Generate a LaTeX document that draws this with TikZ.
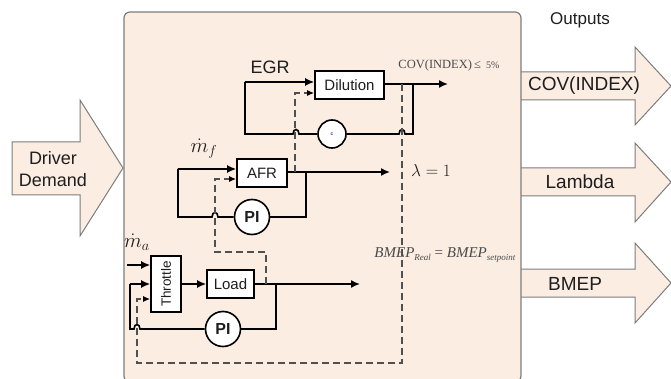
\documentclass[tikz,border=0pt]{standalone}
\usepackage{fontspec}
\setmainfont{Liberation Sans}
\newfontfamily\serifft{Liberation Serif}
\usetikzlibrary{arrows.meta}
\definecolor{peach}{RGB}{252,237,227}
\definecolor{framec}{RGB}{125,125,125}
\definecolor{dashc}{RGB}{80,80,80}
\definecolor{txt}{RGB}{30,30,30}
\newcommand{\subtx}[1]{\raisebox{-3pt}{\fontsize{9}{9}\selectfont #1}}
\begin{document}
\begin{tikzpicture}[x=1pt,y=-1pt,
  blk/.style={draw=black, line width=1.6pt, fill=white, inner sep=0pt, text=txt, font=\fontsize{15}{15}\selectfont},
  ctl/.style={circle, draw=black, line width=1.6pt, fill=white, inner sep=0pt, text=txt, font=\bfseries\fontsize{16}{16}\selectfont},
  sig/.style={line width=1.6pt, draw=black},
  sigarr/.style={sig, -{Latex[length=9pt,width=8pt]}},
  fb/.style={draw=dashc, line width=1.4pt, dash pattern=on 7pt off 4pt},
  fbarr/.style={fb, -{Latex[length=7pt,width=6pt,color=black]}},
  bigarrow/.style={draw=framec, line width=1pt, fill=peach},
  lab/.style={font=\fontsize{18}{22}\selectfont, text=txt},
  outlab/.style={font=\fontsize{19}{19}\selectfont, text=txt}
]
\useasboundingbox (0,0) rectangle (671,379);
% input arrow
\draw[bigarrow] (12,142) -- (80,142) -- (80,100) -- (123,168) -- (80,236) -- (80,195) -- (12,195) -- cycle;
\node[lab, align=center] (driver) at (53,169) {Driver\\Demand};
% output arrows
\draw[bigarrow] (515,72) -- (635,72) -- (635,47) -- (671,86) -- (635,125) -- (635,100) -- (515,100);
\draw[bigarrow] (515,168) -- (635,168) -- (635,143) -- (671,182) -- (635,222) -- (635,196) -- (515,196);
\draw[bigarrow] (515,269) -- (635,269) -- (635,243) -- (671,283) -- (635,323) -- (635,297) -- (515,297);
\node[outlab] (ocov) at (584,86) {COV(INDEX)};
\node[outlab] (olam) at (580,182) {Lambda};
\node[outlab] (obmep) at (575,284) {BMEP};
\node[font=\fontsize{17}{17}\selectfont, text=txt] (outputs) at (580,20) {Outputs};
% main box
\draw[draw=framec, line width=1.2pt, fill=peach, rounded corners=6pt] (124,12) rectangle (521,382);

% blocks
\node[blk, minimum width=69pt, minimum height=28pt] (dil) at (349.5,85) {Dilution};
\node[blk, minimum width=50pt, minimum height=28pt] (afr) at (262,173) {AFR};
\node[blk, minimum width=47pt, minimum height=28pt] (load) at (230.5,284) {Load};
\node[blk, minimum width=30pt, minimum height=56pt] (thr) at (166,284) {};
\node[rotate=90, text=txt, font=\fontsize{13.5}{13.5}\selectfont] (thrlab) at (thr.center) {Throttle};
\node[ctl, minimum size=28pt] (c1) at (332,134) {\fontsize{5}{5}\selectfont\color{blue!50!gray}c};
\node[ctl, minimum size=35pt] (pi1) at (252,217) {PI};
\node[ctl, minimum size=35pt] (pi2) at (223,329) {PI};

% coordinates
\coordinate (covout) at (448,84);
\coordinate (lamout) at (390,172);
\coordinate (bmepout) at (360,284);
\coordinate (dtap) at (402,84);
\coordinate (atap) at (295,172);
\coordinate (ltap) at (266,284);
\coordinate (mastart) at (127,265);

% Dilution loop
\draw[sigarr] ([yshift=1pt]dil.east) -- (covout);
\draw[sig] (413,84) -- (413,134) -- (405,134) .. controls (405,128) and (399,128) .. (399,134) -- (c1.east);
\draw[sig] (c1.west) -- (299,134) .. controls (299,128) and (293,128) .. (293,134) -- (245,134) -- (245,82);
\draw[sigarr] (245,82) -- ([yshift=3pt]dil.west);

% AFR loop
\draw[sigarr] ([yshift=1pt]afr.east) -- (lamout);
\draw[sig] (306,172) -- (306,217) -- (pi1.east);
\draw[sig] (pi1.west) -- (218,217) .. controls (218,211) and (212,211) .. (212,217) -- (178,217) -- (178,169);
\draw[sigarr] (178,169) -- ([yshift=4pt]afr.west);

% Load loop
\draw[sigarr] (thr.east) -- (load.west);
\draw[sigarr] (load.east) -- (bmepout);
\draw[sig] (276,284) -- (276,329) -- (pi2.east);
\draw[sig] (pi2.west) -- (140,329) .. controls (140,323) and (134,323) .. (134,329) -- (130,329) -- (130,284);
\draw[sigarr] (130,284) -- (thr.west);
\draw[sigarr] (mastart) -- ([yshift=19pt]thr.west);

% dashed feedback
\draw[fbarr] (atap) -- (295,93) -- ([yshift=-8pt]dil.west);
\draw[fbarr] (ltap) -- (266,252) -- (215,252) -- (215,179) -- ([yshift=-6pt]afr.west);
\draw[fbarr] (dtap) -- (402,363) -- (137,363) -- (137,299) -- ([yshift=-15pt]thr.west);

% labels
\node[lab] (egr) at (270,67) {EGR};
\node[inner sep=0pt, font=\fontsize{21}{21}\selectfont, text=txt] (mf) at (204,149) {$\dot m_f$};
\node[inner sep=0pt, font=\fontsize{21}{21}\selectfont, text=txt] (ma) at (137,242) {$\dot m_a$};
\node[font=\fontsize{19}{19}\selectfont, text=txt] (lam) at (431,171) {$\lambda = 1$};
\node[font=\serifft\fontsize{12.5}{12.5}\selectfont, text=txt!80] (covt) at (449,65) {COV(INDEX)\,≤ \,{\fontsize{10}{10}\selectfont 5\%}};
\node[font=\serifft\fontsize{15}{15}\selectfont, text=txt!80] (bmept) at (445,255) {\textit{BMEP}\subtx{\textit{Real}} = \textit{BMEP}\subtx{\textit{setpoint}}};
\end{tikzpicture}
\end{document}
